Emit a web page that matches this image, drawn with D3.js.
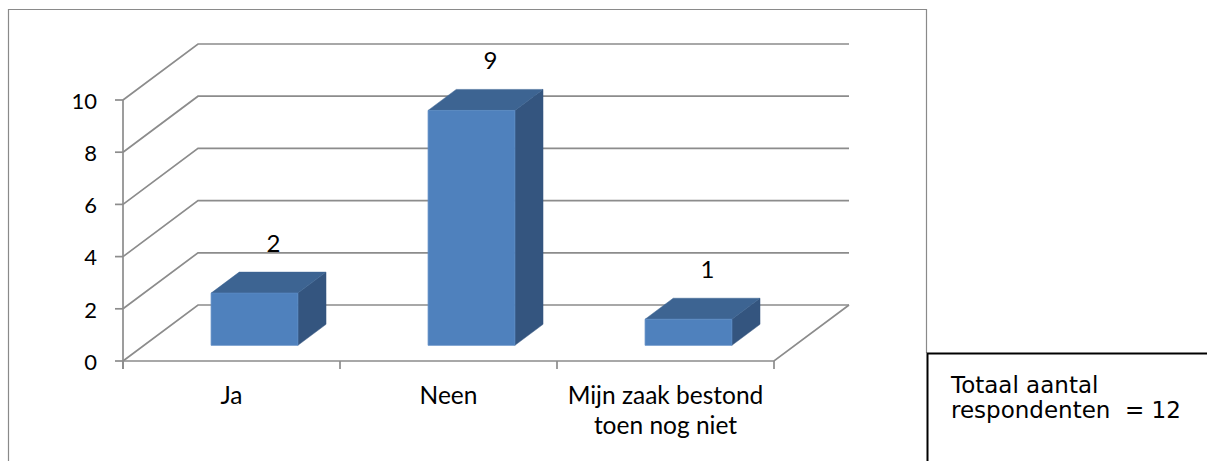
<!DOCTYPE html>
<html><head><meta charset="utf-8">
<script src="https://cdn.jsdelivr.net/npm/d3@7"></script>
<style>html,body{margin:0;padding:0;background:#fff;}svg{display:block;}</style>
</head><body>
<svg id="c" width="1207" height="461"></svg>
<script>
const categories = ["Ja", "Neen", "Mijn zaak bestond|toen nog niet"];
const values = [2, 9, 1];
const yTicks = [0, 2, 4, 6, 8, 10];
const noteLines = ["Totaal aantal", "respondenten  = 12"];

const svg = d3.select("#c");
const DX = 75, DY = -56;           // depth offset of the 3D floor
const x = d3.scaleBand().domain(categories).range([123, 774]).padding(0);
const y = d3.scaleLinear().domain([0, 10]).range([361, 100]);
const P = (px, v, d) => [px + DX * d, y(v) + DY * d];
const FONT = "Lato, 'Open Sans', sans-serif";

// chart frame
svg.append("path").attr("d", "M8.5,470 V9.5 H926.5 V353").attr("fill", "none").attr("stroke", "#8a8a8a").attr("stroke-width", 1.2);

const grid = svg.append("g").attr("fill", "none").attr("stroke", "#8c8c8c").attr("stroke-width", 1.7);
const x0 = x.range()[0], x1 = x.range()[1];
yTicks.forEach(t => {
  const a = P(x0, t, 0), b = P(x0, t, 1), c = P(x1, t, 1);
  grid.append("path").attr("d", `M${a}L${b}L${c}`);
});
// floor front & right edge
grid.append("path").attr("d", `M${P(x0,0,0)}L${P(x1,0,0)}L${P(x1,0,1)}`);
// y axis
grid.append("path").attr("d", `M${x0},${y(0)+8}V${y(10)}`);
yTicks.forEach(t => grid.append("path").attr("d", `M${x0-8},${y(t)}H${x0}`));
// category ticks
const edges = categories.map(c => x(c)).concat([x1]);
edges.forEach(e => grid.append("path").attr("d", `M${e},${y(0)}V${y(0)+8}`));

// y tick labels
svg.append("g").selectAll("text").data(yTicks).join("text")
  .attr("x", 97).attr("y", d => y(d) + 1).attr("dy", "0.35em").attr("text-anchor", "end")
  .attr("font-family", FONT).attr("font-size", 22).attr("fill", "#000")
  .text(d => d);

// category labels
const cl = svg.append("g").attr("font-family", FONT).attr("font-size", 24.5).attr("fill", "#000").attr("text-anchor", "middle");
categories.forEach(c => {
  const lines = c.split("|");
  const t = cl.append("text").attr("x", x(c) + x.bandwidth() / 2).attr("y", 404);
  lines.forEach((l, i) => t.append("tspan").attr("x", x(c) + x.bandwidth() / 2).attr("dy", i ? 30 : 0).text(l));
});

// bars
const df = 0.28, db = 0.655, bw = x.bandwidth() * 0.4;
const bars = svg.append("g");
categories.forEach((c, i) => {
  const v = values[i];
  const cx = x(c) + x.bandwidth() / 2 + 2;
  const L = cx - bw / 2, R = cx + bw / 2;
  const fTL = P(L, v, df), fTR = P(R, v, df), fBR = P(R, 0, df), fBL = P(L, 0, df);
  const bTL = P(L, v, db), bTR = P(R, v, db), bBR = P(R, 0, db);
  bars.append("path").attr("d", `M${fTR}L${bTR}L${bBR}L${fBR}Z`).attr("fill", "#34557f").attr("stroke", "#34557f").attr("stroke-width", 0.5);
  bars.append("path").attr("d", `M${fTL}L${bTL}L${bTR}L${fTR}Z`).attr("fill", "#3d6492").attr("stroke", "#3d6492").attr("stroke-width", 0.5);
  bars.append("path").attr("d", `M${fTL}L${fTR}L${fBR}L${fBL}Z`).attr("fill", "#4f81bd").attr("stroke", "#5a8ac4").attr("stroke-width", 0.8);
  const lx = P(cx, v, df + 0.253)[0];
  svg.append("text").attr("x", lx).attr("y", P(cx, v, db)[1] - 20).attr("text-anchor", "middle")
    .attr("font-family", FONT).attr("font-size", 24).attr("fill", "#000").text(v);
});

// note box
svg.append("path").attr("d", "M927.5,470 V353.5 H1210").attr("fill", "none").attr("stroke", "#000").attr("stroke-width", 2);
const nt = svg.append("text").attr("font-family", "'DejaVu Sans', Verdana, sans-serif").attr("font-size", 23).attr("fill", "#000");
noteLines.forEach((l, i) => nt.append("tspan").attr("x", 951).attr("y", 393 + i * 25).style("white-space", "pre").text(l));
</script>
</body></html>
